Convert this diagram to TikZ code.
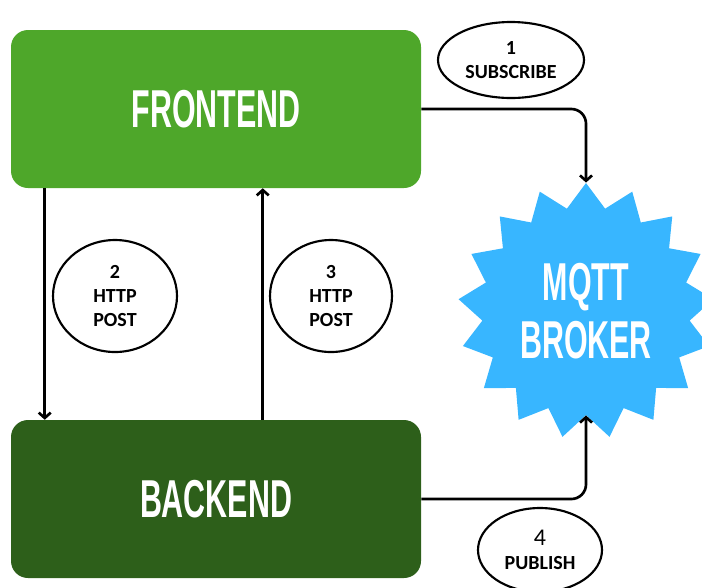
\documentclass[tikz,border=0pt]{standalone}
\usepackage{fontspec}
\setmainfont{Carlito}
\newfontfamily\headfont{Liberation Sans}
\usetikzlibrary{shapes.geometric,arrows.meta}
\definecolor{fegreen}{HTML}{4EA72A}
\definecolor{begreen}{HTML}{2D5F1A}
\definecolor{mqttblue}{HTML}{38B6FF}
\newcommand\headtext[1]{\scalebox{0.57}[1]{\headfont\bfseries\fontsize{40}{43.5}\selectfont #1}}
\begin{document}
\begin{tikzpicture}[x=0.75pt,y=-0.75pt,
  box/.style={rounded corners=12.75pt, minimum width=307.5pt, minimum height=118.5pt, inner sep=0pt, text=white},
  tag/.style={ellipse, draw=black, line width=1.6pt, inner sep=0pt, align=center, font=\fontsize{15}{18}\selectfont\bfseries},
  conn/.style={line width=2pt, -{Straight Barb[length=4pt,width=9pt]}},
]
\clip (0,0) rectangle (702,587);
\node[box, fill=fegreen] (fe) at (216,109) {\headtext{FRONTEND}};
\node[box, fill=begreen] (be) at (216,499) {\headtext{BACKEND}};
\node[star, star points=17, star point ratio=1.23, minimum size=192pt, inner sep=0pt, fill=mqttblue, text=white, align=center, font=\fontsize{40}{43.5}\selectfont] (broker) at (586,311) {\headtext{MQTT}\\\headtext{BROKER}};
\draw[conn, rounded corners=11pt] (fe.east) -| (broker.north);
\draw[conn, rounded corners=11pt] (be.east) -| (broker.south);
\draw[conn] ([xshift=25.5pt]fe.south west) -- ([xshift=25.5pt]be.north west);
\draw[conn] ([xshift=189pt]be.north west) -- ([xshift=189pt]fe.south west);
\node[tag, minimum width=109.5pt, minimum height=57pt] (t1) at (511,60) {1\\SUBSCRIBE};
\node[tag, minimum width=93pt, minimum height=84pt] (t2) at (115,296) {2\\HTTP\\POST};
\node[tag, minimum width=91.5pt, minimum height=84pt] (t3) at (331,296) {3\\HTTP\\POST};
\node[tag, minimum width=93pt, minimum height=63pt] (t4) at (540,550) {{\mdseries\fontsize{18}{18}\selectfont 4}\\PUBLISH};
\end{tikzpicture}
\end{document}
